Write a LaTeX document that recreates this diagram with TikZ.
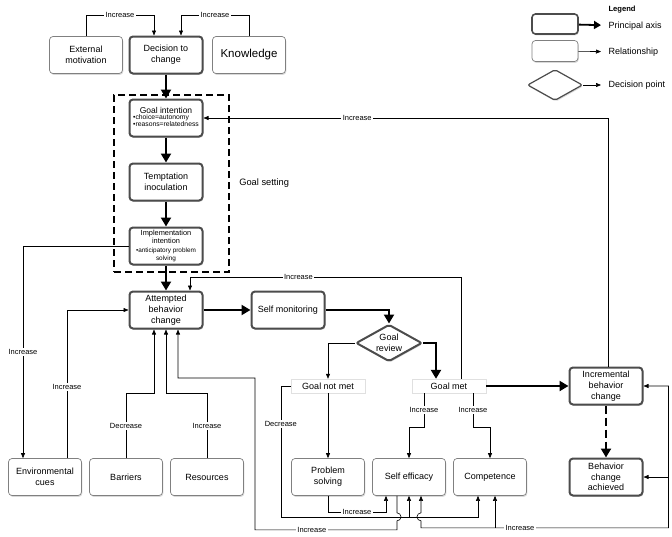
\documentclass[tikz,border=0pt]{standalone}
\usepackage{fontspec}
\setmainfont{Liberation Sans}
\usetikzlibrary{arrows.meta,positioning,shapes.geometric,shadows}
\tikzset{%
  every box/.style={
    rectangle,
    rounded corners=3.5pt,
    fill=white,
    align=center,
    minimum width=73pt,
    minimum height=37pt,
    inner sep=1pt,
    font=\fontsize{9}{10.7}\selectfont,
    drop shadow={opacity=0.3, shadow xshift=0.8pt, shadow yshift=-1.4pt}
  },
  box principal/.style={draw=black!70, line width=2pt},
  box relation/.style={draw=black!50, line width=0.7pt},
  box outcome/.style={
    rounded corners=0pt,
    draw=black!12,
    line width=0.4pt,
    minimum width=74pt,
    minimum height=14pt
  },
  box review/.style={
    diamond,
    aspect=1.8,
    rounded corners=2pt,
    inner sep=0pt,
    minimum width=66pt,
    minimum height=37pt,
    draw=black!70,
    line width=2pt
  },
  axis/.style={line width=2.4pt, -{Triangle[length=9pt, width=10pt]}},
  relation/.style={line width=0.6pt, ->},
  effect/.style={fill=white, inner sep=1.5pt, font=\fontsize{7.5}{8}\selectfont}
}

\begin{document}
\begin{tikzpicture}[x=1pt, y=-1pt, >={Triangle[length=5pt, width=4pt]}]
\useasboundingbox (0,0) rectangle (672,536);

\node [every box, box relation] (ext) at (86,55) {External\\motivation};
\node [every box, box principal] (dec) at (166,55) {Decision to\\change};
\node [every box, box relation, font=\fontsize{11.5}{13}\selectfont] (know) at (249,55) {Knowledge};

\node [draw, line width=1.6pt, dash pattern=on 7pt off 4pt,
  minimum width=115pt, minimum height=177pt] (setting) at (171.5,183.5) {};
\node [font=\fontsize{9.3}{11}\selectfont, right=6pt of setting] (setting-txt) {Goal setting};

\node [every box, box principal] (goal) at (166,118)
  {\fontsize{8.5}{9.5}\selectfont Goal intention\\[-1pt]
   {\fontsize{6.8}{7.4}\selectfont\begin{tabular}{@{}l@{}}\textbullet choice=autonomy\\\textbullet reasons=relatedness\end{tabular}}};
\node [every box, box principal] (tempt) at (166,182) {Temptation\\inoculation};
\node [every box, box principal, font=\fontsize{7.4}{8.2}\selectfont] (impl) at (166,246)
  {Implementation\\intention\\{\fontsize{6.4}{7}\selectfont\textbullet anticipatory problem}\\{\fontsize{6.4}{7}\selectfont solving}};

\node [every box, box principal] (attempt) at (166,310) {Attempted\\behavior\\change};
\node [every box, box principal] (selfmon) at (288,310) {Self monitoring};
\node [every box, box review] (review) at (389,343) {Goal\\review};
\node [every box, box outcome] (notmet) at (328,386) {Goal not met};
\node [every box, box outcome] (met) at (449,386) {Goal met};
\node [every box, box principal] (incr) at (606,386) {Incremental\\behavior\\change};
\node [every box, box principal] (achieved) at (606,477) {Behavior\\change\\achieved};

\foreach \n/\t [count=\i] in {env/{Environmental\\cues}, barr/Barriers, res/Resources}
  \node [every box, box relation] (\n) at (-36+\i*81, 477) {\t};

\foreach \n/\t [count=\i] in {probl/{Problem\\solving}, effic/Self efficacy, compet/Competence}
  \node [every box, box relation] (\n) at (247+\i*81, 477) {\t};

% legend
\node [font=\bfseries\fontsize{7.6}{9}\selectfont, anchor=west] (legend) at (605,10) {Legend};
\node [every box, box principal, line width=1.6pt, minimum width=46pt, minimum height=20pt] (key-axis) at (555,24) {};
\node [every box, box relation, minimum width=46pt, minimum height=21pt] (key-rel) at (555,51) {};
\node [every box, box review, line width=1.2pt, minimum width=55pt, minimum height=31pt] (key-rev) at (555,85) {};
\foreach \k/\t/\y in {axis/Principal axis/26, rel/Relationship/52, rev/Decision point/85}
  \node [anchor=west, font=\fontsize{9}{10}\selectfont] (key-\k-txt) at (605,\y) {\t};
\draw [line width=1.8pt, -{Triangle[length=7pt, width=8pt]}, shorten >=4pt] (key-axis) -- (key-axis-txt);
\draw [relation, shorten >=4pt] (key-rel) -- (key-rel-txt);
\draw [relation, shorten >=4pt] (key-rev) -- (key-rev-txt);

% principal axis
\foreach \a/\b in {dec/goal, goal/tempt, tempt/impl, impl/attempt, attempt/selfmon, met/incr}
  \draw [axis] (\a) -- (\b);
\draw [axis] (selfmon.east) -| (review.north);
\draw [axis] (review.east) -| ([xshift=-13pt]met.north);
\draw [axis, dash pattern=on 8pt off 4pt] (incr) -- (achieved);

% relationships
\draw [relation] (ext.north) -- ++(0,-21) -| ([xshift=-12pt]dec.north) node [effect, pos=0.25] {Increase};
\draw [relation] (know.north) -- ++(0,-21) -| ([xshift=15pt]dec.north) node [effect, pos=0.25] {Increase};
\draw [relation] ([xshift=2pt]incr.north) |- (goal.east) node [effect, pos=0.81] {Increase};
\draw [relation] (impl.west) -| ([xshift=-22pt]env.north) node [effect, pos=0.75] {Increase};
\draw [relation] ([xshift=22pt]env.north) |- (attempt.west) node [effect, pos=0.24] {Increase};
\draw [relation] (barr.north) -- ++(0,-65) node [effect, midway] {Decrease} -| ([xshift=-12pt]attempt.south);
\draw [relation] (res.north) -- ++(0,-65) node [effect, midway] {Increase} -| (attempt.south);
\draw [relation] ([xshift=12pt]met.north) -- ++(0,-102) -| ([xshift=24pt]attempt.north) node [effect, pos=0.3] {Increase};
\draw [relation] (review.west) -| (notmet.north);
\draw [relation] (notmet) -- (probl);
\draw [relation] ([xshift=-25pt]met.south) -- ++(0,34) node [effect, midway] {Increase} -| (effic.north);
\draw [relation] ([xshift=24pt]met.south) -- ++(0,34) node [effect, midway] {Increase} -| (compet.north);
\draw [relation] (probl.south) -- ++(0,16) -| ([xshift=-23pt]effic.south) node [effect, pos=0.25] {Increase};
\draw [relation] (notmet.west) -| ++(-10,131) node [effect, pos=0.645] {Decrease} -| ([xshift=-12pt]compet.south);
\draw [relation, <-] (effic.south) -- ++(0,21);
\draw [relation] ([xshift=-12pt]effic.south) -- ++(0,17) arc[start angle=-90, end angle=90, radius=4]
  -- ([xshift=-12pt, yshift=-34pt]effic.south)
  -| ([xshift=89pt, yshift=-48.5pt]attempt.south) node [effect, pos=0.3] {Increase}
  -| ([xshift=12pt]attempt.south);
\draw [relation, <->] (incr.east) -- ++(25,0) |- ([xshift=12pt, yshift=-32pt]effic.south) node [effect, pos=0.8] {Increase}
  -- ++(0,-7) arc[start angle=90, end angle=270, radius=4] -- ([xshift=12pt]effic.south);
\draw [relation, <-] (achieved.east) -- ++(25,0);
\draw [relation, <-] ([xshift=5pt]compet.south) -- ++(0,32);

\end{tikzpicture}
\end{document}
